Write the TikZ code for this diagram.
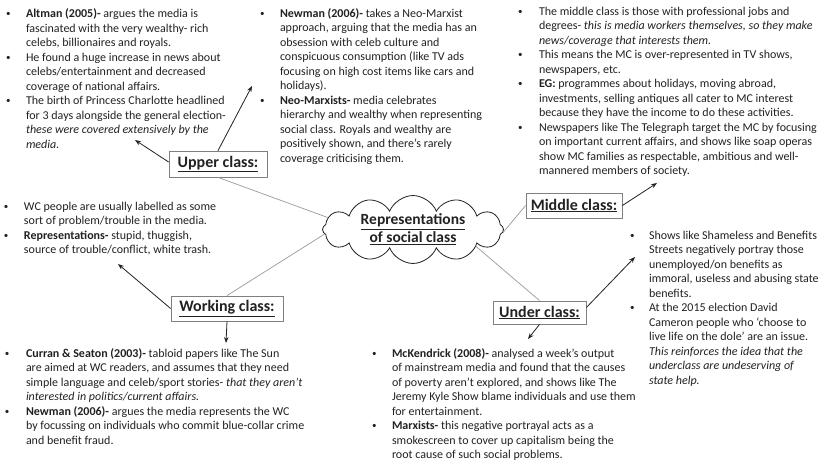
\documentclass[tikz,border=0pt]{standalone}
\usepackage{fontspec}
\setmainfont{Carlito}
\usetikzlibrary{shapes.symbols,arrows.meta}
\definecolor{txt}{HTML}{222222}
\definecolor{lnk}{HTML}{9A9A9A}
\definecolor{bord}{HTML}{7F7F7F}
\newcommand\bul{\raisebox{0.8pt}{\fontsize{9}{9}\selectfont •}}
\newenvironment{blist}[1]{\begin{tabular}[t]{@{}p{#1}@{}l@{}}}{\end{tabular}}
\begin{document}
\begin{tikzpicture}[x=1pt,y=-1pt,
  blk/.style={anchor=base west, inner sep=0pt, outer sep=0pt, text=txt, font=\fontsize{12}{14.5}\selectfont},
  cls/.style={draw=bord, fill=white, line width=0.8pt, text=txt, inner sep=0pt, font=\fontsize{16}{18}\selectfont\bfseries},
  conn/.style={draw=lnk, line width=0.7pt},
  arr/.style={draw=txt, line width=0.8pt, -{Stealth[length=6pt,width=4.5pt]}}]
\useasboundingbox[fill=white] (0,0) rectangle (828,466);

% text blocks
\node[blk] (tUL) at (6,17.5) {\begin{blist}{20pt}
\bul & \textbf{Altman (2005)-} argues the media is\\
 & fascinated with the very wealthy- rich\\
 & celebs, billionaires and royals.\\
\bul & He found a huge increase in news about\\
 & celebs/entertainment and decreased\\
 & coverage of national affairs.\\
\bul & The birth of Princess Charlotte headlined\\
 & for 3 days alongside the general election-\\
 & \textit{these were covered extensively by the}\\
 & \textit{media.}
\end{blist}};

\node[blk] (tUM) at (260,17) {\begin{blist}{20pt}
\bul & \textbf{Newman (2006)-} takes a Neo-Marxist\\
 & approach, arguing that the media has an\\
 & obsession with celeb culture and\\
 & conspicuous consumption (like TV ads\\
 & focusing on high cost items like cars and\\
 & holidays).\\
\bul & \textbf{Neo-Marxists-} media celebrates\\
 & hierarchy and wealthy when representing\\
 & social class. Royals and wealthy are\\
 & positively shown, and there’s rarely\\
 & coverage criticising them.
\end{blist}};

\node[blk] (tUR) at (518,15) {\begin{blist}{21pt}
\bul & The middle class is those with professional jobs and\\
 & degrees- \textit{this is media workers themselves, so they make}\\
 & \textit{news/coverage that interests them.}\\
\bul & This means the MC is over-represented in TV shows,\\
 & newspapers, etc.\\
\bul & \textbf{EG:} programmes about holidays, moving abroad,\\
 & investments, selling antiques all cater to MC interest\\
 & because they have the income to do these activities.\\
\bul & Newspapers like The Telegraph target the MC by focusing\\
 & on important current affairs, and shows like soap operas\\
 & show MC families as respectable, ambitious and well-\\
 & mannered members of society.
\end{blist}};

\node[blk] (tWC) at (4,210) {\begin{blist}{20pt}
\bul & WC people are usually labelled as some\\
 & sort of problem/trouble in the media.\\
\bul & \textbf{Representations-} stupid, thuggish,\\
 & source of trouble/conflict, white trash.
\end{blist}};

\node[blk] (tUC) at (630,239) {\begin{blist}{19pt}
\bul & Shows like Shameless and Benefits\\
 & Streets negatively portray those\\
 & unemployed/on benefits as\\
 & immoral, useless and abusing state\\
 & benefits.\\
\bul & At the 2015 election David\\
 & Cameron people who ‘choose to\\
 & live life on the dole’ are an issue.\\
 & \textit{This reinforces the idea that the}\\
 & \textit{underclass are undeserving of}\\
 & \textit{state help.}
\end{blist}};

\node[blk] (tBL) at (5,357) {\begin{blist}{21pt}
\bul & \textbf{Curran \& Seaton (2003)-} tabloid papers like The Sun\\
 & are aimed at WC readers, and assumes that they need\\
 & simple language and celeb/sport stories- \textit{that they aren’t}\\
 & \textit{interested in politics/current affairs.}\\
\bul & \textbf{Newman (2006)-} argues the media represents the WC\\
 & by focussing on individuals who commit blue-collar crime\\
 & and benefit fraud.
\end{blist}};

\node[blk] (tBM) at (372,357) {\begin{blist}{20pt}
\bul & \textbf{McKendrick (2008)-} analysed a week’s output\\
 & of mainstream media and found that the causes\\
 & of poverty aren’t explored, and shows like The\\
 & Jeremy Kyle Show blame individuals and use them\\
 & for entertainment.\\
\bul & \textbf{Marxists-} this negative portrayal acts as a\\
 & smokescreen to cover up capitalism being the\\
 & root cause of such social problems.
\end{blist}};

% cloud
\node[cloud, cloud puffs=12, cloud puff arc=135, cloud ignores aspect, draw=txt, line width=0.8pt, fill=white,
  minimum width=181pt, minimum height=63pt, inner sep=0pt, align=center, text=txt,
  font=\fontsize{15.5}{18}\selectfont\bfseries] (cloud) at (413,229.5)
  {\underline{Representations}\\\underline{of social class}};

% class boxes
\node[cls, minimum width=98pt, minimum height=26pt] (upper) at (218,164) {\underline{Upper class:}};
\node[cls, minimum width=96pt, minimum height=25pt] (middle) at (574,205.5) {\underline{Middle class:}};
\node[cls, minimum width=112pt, minimum height=25pt] (working) at (227,308.5) {\underline{Working class:}};
\node[cls, minimum width=93pt, minimum height=23pt] (under) at (539.5,312.5) {\underline{Under class:}};

% grey links
\draw[conn] (upper.south) -- (cloud.172);
\draw[conn] (working.north) -- (cloud.183);
\draw[conn] (middle.west) -- (cloud.358);
\draw[conn] (under.north) -- (cloud.345);

% arrows
\coordinate (eUL) at (135,140);
\coordinate (eUM) at (252,86);
\coordinate (eMC) at (657,183);
\coordinate (eUC) at (635,257);
\coordinate (eBM) at (528,339);
\coordinate (eWC) at (118,264);
\coordinate (eBL) at (226,343);
\draw[arr] ([yshift=2pt]upper.west) -- (eUL);
\draw[arr] (upper.north) -- (eUM);
\draw[arr] (middle.east) -- (eMC);
\draw[arr] ([yshift=5pt]under.east) -- (eUC);
\draw[arr] (under.south) -- (eBM);
\draw[arr] (working.west) -- (eWC);
\draw[arr] (working.south) -- (eBL);
\end{tikzpicture}
\end{document}
